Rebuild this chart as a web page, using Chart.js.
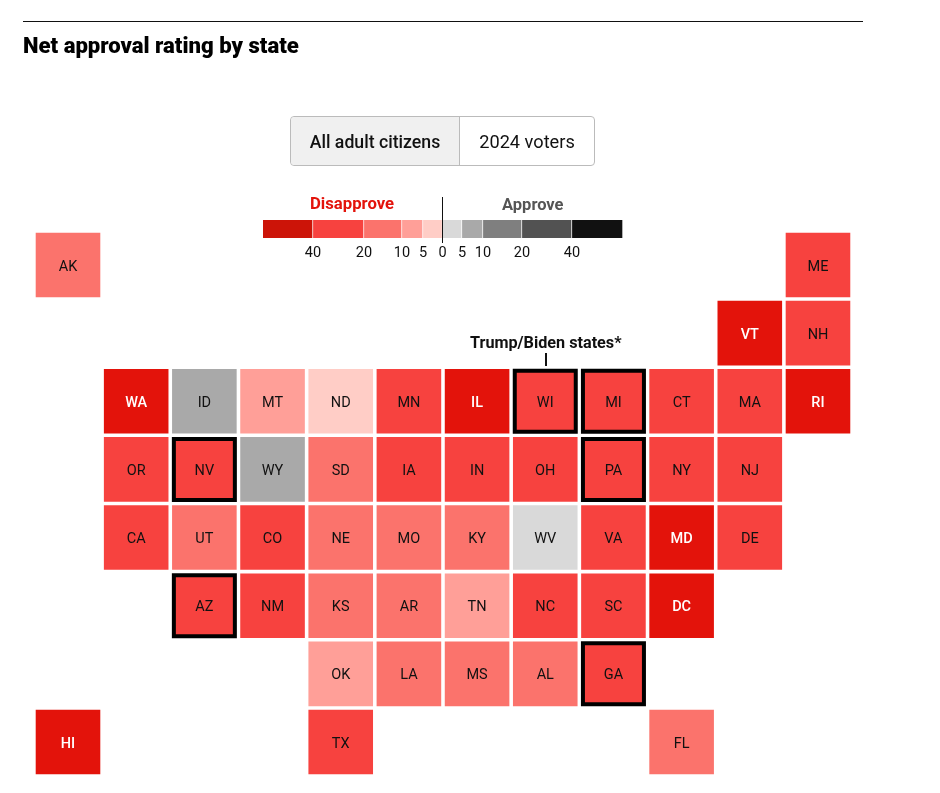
<!DOCTYPE html>
<html>
<head>
<meta charset="utf-8">
<style>
  html, body { margin: 0; padding: 0; background: #fff; }
  body { width: 940px; height: 793px; position: relative; overflow: hidden; font-family: Roboto, sans-serif; color: #111; }
  .abs { position: absolute; white-space: nowrap; }
  #rule { left: 23px; top: 21px; width: 840px; height: 1px; background: #111; }
  #title { left: 23px; top: 32px; font-size: 22.1px; line-height: 26px; font-weight: 900; color: #000; }
  #toggle { left: 290px; top: 116px; width: 303px; height: 48px; border: 1px solid #bbb; border-radius: 4px; display: flex; font-size: 17.7px; line-height: 50px; text-align: center; }
  #toggle div:first-child { width: 168px; background: #f0f0f0; border-right: 1px solid #bbb; font-weight: 500; border-radius: 4px 0 0 4px; }
  #toggle div:last-child { flex: 1; font-size: 18.2px; }
  #dis { left: 310px; top: 194px; font-size: 16.7px; line-height: 20px; font-weight: 700; color: #e3130b; }
  #app { left: 502px; top: 195px; font-size: 16.5px; line-height: 20px; font-weight: 700; color: #555; }
  #mid { left: 442px; top: 197px; width: 1px; height: 46px; background: #111; }
  #tb { left: 470px; top: 333px; font-size: 16.2px; line-height: 20px; font-weight: 700; color: #111; }
  #tbtick { left: 545px; top: 353px; width: 2px; height: 13px; background: #111; }
  canvas { position: absolute; left: 0; top: 0; }
</style>
<script src="https://cdn.jsdelivr.net/npm/chart.js@4/dist/chart.umd.min.js"></script>
</head>
<body>
<canvas id="map" width="940" height="793" style="width:940px;height:793px"></canvas>
<canvas id="legend" width="940" height="793" style="width:940px;height:793px"></canvas>
<div class="abs" id="rule"></div>
<div class="abs" id="title">Net approval rating by state</div>
<div class="abs" id="toggle"><div>All adult citizens</div><div>2024 voters</div></div>
<div class="abs" id="dis">Disapprove</div>
<div class="abs" id="app">Approve</div>
<div class="abs" id="mid"></div>
<div class="abs" id="tb">Trump/Biden states*</div>
<div class="abs" id="tbtick"></div>
<script>
// tile grid, one entry per state
const states = ["AK","ME","VT","NH","WA","ID","MT","ND","MN","IL","WI","MI","CT","MA","RI",
  "OR","NV","WY","SD","IA","IN","OH","PA","NY","NJ",
  "CA","UT","CO","NE","MO","KY","WV","VA","MD","DE",
  "AZ","NM","KS","AR","TN","NC","SC","DC",
  "OK","LA","MS","AL","GA",
  "HI","TX","FL"];
const cols = [0,11,10,11,1,2,3,4,5,6,7,8,9,10,11,
  1,2,3,4,5,6,7,8,9,10,
  1,2,3,4,5,6,7,8,9,10,
  2,3,4,5,6,7,8,9,
  4,5,6,7,8,
  0,4,9];
const rows = [0,0,1,1,2,2,2,2,2,2,2,2,2,2,2,
  3,3,3,3,3,3,3,3,3,3,
  4,4,4,4,4,4,4,4,4,4,
  5,5,5,5,5,5,5,5,
  6,6,6,6,6,
  7,7,7];
// net approval, estimated from the colour bins
const netApproval = [-15,-25,-45,-25,-45,7,-8,-3,-25,-45,-25,-25,-25,-25,-45,
  -25,-25,7,-15,-25,-25,-25,-25,-25,-25,
  -25,-15,-25,-15,-15,-15,3,-25,-45,-25,
  -25,-25,-15,-15,-8,-25,-25,-45,
  -8,-15,-15,-15,-25,
  -45,-25,-15];
const trumpBiden = ["WI","MI","NV","PA","AZ","GA"];

const binEdges = [-40,-20,-10,-5,0,5,10,20,40];
const tileColors = ["#e3130b","#f7423f","#fb736c","#ff9f98","#ffcdc6","#d9d9d9","#a9a9a9","#7f7f7f","#525252","#111111"];
const legendColors = ["#cc1408","#f7423f","#fb736c","#ff9f98","#ffcdc6","#d9d9d9","#a9a9a9","#7f7f7f","#525252","#111111"];
const legendStops = [-60,-40,-20,-10,-5,0,5,10,20,40,60];
const legendStopPx = [263,313,364,402,423,442.5,462,483,522,572,622];
const legendTicks = [-40,-20,-10,-5,0,5,10,20,40];

function binOf(v) {
  let i = 0;
  while (i < binEdges.length && v >= binEdges[i]) i++;
  return i;
}

const FONT = "Roboto, sans-serif";

// writes the state code on top of each tile
const tileLabels = {
  id: "tileLabels",
  afterDatasetsDraw(chart) {
    const { ctx } = chart;
    const meta = chart.getDatasetMeta(0);
    ctx.save();
    ctx.textAlign = "center";
    ctx.textBaseline = "middle";
    meta.data.forEach((pt, i) => {
      const dark = binOf(netApproval[i]) === 0;
      ctx.font = (dark ? "500 " : "") + "14.5px " + FONT;
      ctx.fillStyle = dark ? "#fff" : "#111";
      ctx.fillText(states[i], pt.x, pt.y + 2);
    });
    ctx.restore();
  }
};

const TILE = 64.6;
function tileRadius(ctx) {
  const s = trumpBiden.includes(states[ctx.dataIndex]) ? TILE - 3.6 : TILE;
  return s / Math.SQRT2;
}

new Chart(document.getElementById("map"), {
  type: "scatter",
  data: {
    datasets: [{
      data: states.map((s, i) => ({ x: cols[i], y: rows[i] })),
      pointStyle: "rect",
      pointRadius: tileRadius,
      pointHoverRadius: tileRadius,
      backgroundColor: ctx => tileColors[binOf(netApproval[ctx.dataIndex])],
      borderColor: "#000",
      borderWidth: ctx => trumpBiden.includes(states[ctx.dataIndex]) ? 4 : 0
    }]
  },
  options: {
    responsive: false,
    animation: false,
    clip: false,
    layout: { padding: 0, autoPadding: false },
    plugins: { legend: { display: false }, tooltip: { enabled: false } },
    scales: {
      x: { type: "linear", display: false, bounds: "data", min: -68 / 68.18, max: (940 - 68) / 68.18 },
      y: { type: "linear", display: false, bounds: "data", reverse: true, min: -265 / 68.14, max: (793 - 265) / 68.14 }
    }
  },
  plugins: [tileLabels]
});

// legend axis is not linear, so map values through the stops
class LegendScale extends Chart.LinearScale {
  getPixelForValue(v) {
    const { stops, px } = this.options;
    let i = 1;
    while (i < stops.length - 1 && v > stops[i]) i++;
    const t = (v - stops[i - 1]) / (stops[i] - stops[i - 1]);
    return px[i - 1] + t * (px[i] - px[i - 1]);
  }
}
LegendScale.id = "legendScale";
LegendScale.defaults = Chart.LinearScale.defaults;
Chart.register(LegendScale);

new Chart(document.getElementById("legend"), {
  type: "bar",
  data: {
    labels: ["net"],
    datasets: legendColors.map((c, i) => ({
      data: [[legendStops[i], legendStops[i + 1]]],
      backgroundColor: c,
      borderColor: "#fff",
      borderWidth: { left: 0, right: i < legendColors.length - 1 ? 1 : 0, top: 0, bottom: 0 },
      borderSkipped: false,
      barThickness: 18,
      grouped: false
    }))
  },
  options: {
    indexAxis: "y",
    responsive: false,
    animation: false,
    layout: { padding: { left: 0, right: 0, top: 220, bottom: 793 - 262 } },
    plugins: { legend: { display: false }, tooltip: { enabled: false } },
    scales: {
      y: { display: false },
      x: {
        type: "legendScale",
        stops: legendStops,
        px: legendStopPx,
        min: -60,
        max: 60,
        bounds: "data",
        grid: { display: false, tickLength: 5 },
        border: { display: false },
        afterFit: axis => { axis.height = 24; },
        afterBuildTicks: axis => { axis.ticks = legendTicks.map(v => ({ value: v })); },
        ticks: {
          autoSkip: false,
          maxRotation: 0,
          padding: 2,
          color: "#111",
          font: { family: FONT, size: 14.5 },
          callback: v => String(Math.abs(v))
        }
      }
    }
  }
});
</script>
</body>
</html>
